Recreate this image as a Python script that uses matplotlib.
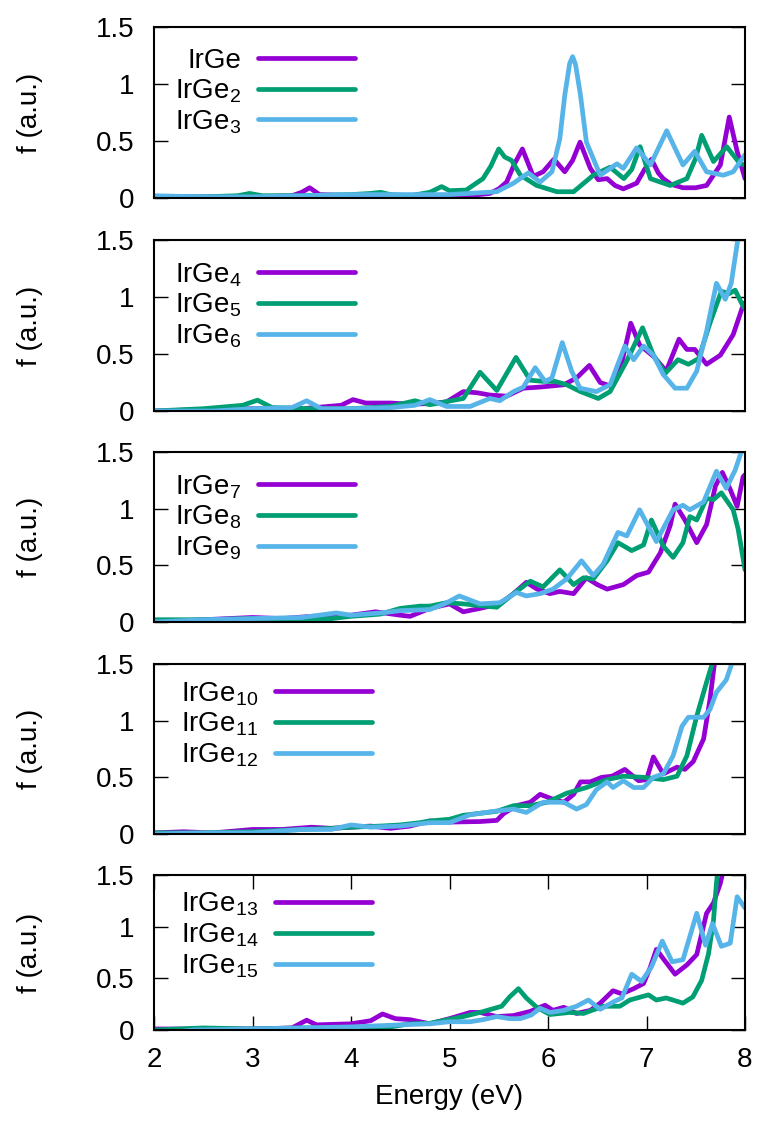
import matplotlib
matplotlib.use("Agg")
import matplotlib.pyplot as plt

plt.rcParams["font.family"] = ["Liberation Sans", "DejaVu Sans"]
plt.rcParams["mathtext.fontset"] = "custom"
plt.rcParams["mathtext.rm"] = "Liberation Sans"
plt.rcParams["mathtext.default"] = "regular"

PURPLE = "#9400d3"
GREEN = "#009e73"
BLUE = "#56b4e9"

# ---- oscillator strength spectra (energy in eV, f in a.u.) ----
e1 = [2.0, 2.5, 3.0, 3.4, 3.5, 3.58, 3.68, 4.0, 4.5, 4.8, 5.0, 5.3, 5.41, 5.5, 5.58, 5.66, 5.74, 5.8,
      5.85, 5.95, 6.06, 6.17, 6.25, 6.325, 6.43, 6.51, 6.6, 6.68, 6.765, 6.9, 6.98, 7.05, 7.12, 7.17,
      7.25, 7.37, 7.5, 7.61, 7.75, 7.84, 7.92, 8.0]
f1 = [0.01, 0.01, 0.01, 0.02, 0.05, 0.09, 0.03, 0.02, 0.01, 0.02, 0.02, 0.03, 0.04, 0.08, 0.14, 0.3, 0.43, 0.3,
      0.19, 0.23, 0.34, 0.23, 0.33, 0.49, 0.26, 0.16, 0.17, 0.11, 0.08, 0.13, 0.25, 0.34, 0.22, 0.17,
      0.12, 0.09, 0.09, 0.11, 0.29, 0.71, 0.41, 0.17]

e2 = [2.0, 2.5, 2.85, 2.97, 3.1, 3.5, 4.0, 4.2, 4.3, 4.4, 4.6, 4.8, 4.92, 5.0, 5.17, 5.34, 5.42, 5.5,
      5.56, 5.63, 5.72, 5.885, 6.09, 6.26, 6.46, 6.63, 6.77, 6.85, 6.935, 7.04, 7.24, 7.41, 7.5, 7.56,
      7.68, 7.815, 7.95, 8.0]
f2 = [0.01, 0.01, 0.02, 0.04, 0.02, 0.02, 0.03, 0.04, 0.05, 0.03, 0.02, 0.05, 0.1, 0.064, 0.07, 0.17, 0.28, 0.43,
      0.36, 0.33, 0.2, 0.11, 0.055, 0.055, 0.2, 0.27, 0.17, 0.25, 0.45, 0.17, 0.11, 0.17, 0.35, 0.55,
      0.32, 0.45, 0.3, 0.29]

e3 = [2.0, 2.5, 3.0, 3.5, 4.0, 4.5, 5.0, 5.48, 5.65, 5.8, 5.92, 6.04, 6.12, 6.17, 6.22, 6.25, 6.28, 6.33,
      6.39, 6.53, 6.7, 6.765, 6.9, 7.04, 7.205, 7.37, 7.49, 7.61, 7.78, 7.88, 8.0]
f3 = [0.02, 0.01, 0.01, 0.02, 0.03, 0.03, 0.03, 0.055, 0.13, 0.22, 0.14, 0.23, 0.52, 0.9, 1.18, 1.24, 1.17, 0.9,
      0.49, 0.2, 0.3, 0.26, 0.44, 0.29, 0.59, 0.29, 0.41, 0.23, 0.2, 0.23, 0.38]

e4 = [2.0, 2.4, 3.0, 3.5, 3.9, 4.02, 4.15, 4.4, 4.6, 4.8, 4.97, 5.14, 5.28, 5.41, 5.58, 5.75, 5.92, 6.16,
      6.29, 6.42, 6.53, 6.63, 6.73, 6.84, 6.93, 7.07, 7.2, 7.33, 7.41, 7.49, 7.61, 7.75, 7.88, 7.97, 8.0]
f4 = [0.0, 0.01, 0.02, 0.02, 0.05, 0.1, 0.07, 0.07, 0.06, 0.065, 0.08, 0.17, 0.16, 0.14, 0.13, 0.2, 0.21, 0.23,
      0.29, 0.4, 0.25, 0.22, 0.35, 0.77, 0.58, 0.48, 0.35, 0.63, 0.54, 0.54, 0.41, 0.49, 0.67, 0.9, 0.95]

e5 = [2.0, 2.5, 2.9, 3.05, 3.2, 3.6, 4.0, 4.4, 4.65, 4.8, 5.14, 5.31, 5.48, 5.675, 5.82, 5.95, 6.07, 6.19,
      6.33, 6.51, 6.63, 6.8, 6.96, 7.07, 7.19, 7.32, 7.425, 7.53, 7.64, 7.76, 7.84, 7.9, 7.98, 8.0]
f5 = [0.0, 0.02, 0.05, 0.095, 0.03, 0.02, 0.02, 0.04, 0.09, 0.055, 0.11, 0.34, 0.18, 0.47, 0.27, 0.26, 0.26, 0.23,
      0.17, 0.11, 0.17, 0.44, 0.73, 0.49, 0.33, 0.45, 0.41, 0.46, 0.76, 1.05, 1.03, 1.06, 0.92, 0.9]

e6 = [2.0, 2.6, 3.0, 3.4, 3.55, 3.7, 4.0, 4.4, 4.65, 4.8, 4.97, 5.21, 5.41, 5.51, 5.65, 5.75, 5.87, 5.97,
      6.04, 6.145, 6.24, 6.325, 6.49, 6.63, 6.78, 6.87, 6.97, 7.07, 7.17, 7.29, 7.41, 7.51, 7.61, 7.71,
      7.8, 7.86, 7.93, 8.0]
f6 = [0.0, 0.0, 0.02, 0.03, 0.09, 0.02, 0.02, 0.03, 0.05, 0.1, 0.04, 0.04, 0.11, 0.09, 0.17, 0.21, 0.38, 0.26,
      0.29, 0.6, 0.35, 0.2, 0.17, 0.23, 0.57, 0.45, 0.57, 0.49, 0.32, 0.2, 0.2, 0.35, 0.7, 1.12,
      0.98, 1.12, 1.52, 1.85]

e7 = [2.0, 2.5, 3.0, 3.3, 3.6, 4.0, 4.25, 4.5, 4.6, 4.8, 5.0, 5.14, 5.31, 5.51, 5.65, 5.78, 5.89, 6.02,
      6.12, 6.26, 6.39, 6.5, 6.6, 6.765, 6.9, 7.02, 7.14, 7.24, 7.29, 7.39, 7.51, 7.61, 7.7, 7.77, 7.85,
      7.92, 7.98, 8.0]
f7 = [0.0, 0.02, 0.04, 0.03, 0.05, 0.06, 0.09, 0.06, 0.05, 0.12, 0.16, 0.09, 0.12, 0.16, 0.25, 0.35, 0.29, 0.25,
      0.27, 0.25, 0.39, 0.33, 0.29, 0.33, 0.41, 0.44, 0.61, 0.85, 1.04, 0.9, 0.7, 0.86, 1.2, 1.32, 1.17,
      1.02, 1.28, 1.3]

e8 = [2.0, 2.5, 3.0, 3.5, 3.8, 4.0, 4.3, 4.5, 4.7, 4.8, 4.97, 5.14, 5.48, 5.65, 5.82, 5.95, 6.12, 6.26,
      6.36, 6.46, 6.6, 6.71, 6.85, 6.97, 7.05, 7.17, 7.27, 7.37, 7.44, 7.51, 7.61, 7.68, 7.76, 7.88,
      7.93, 8.0]
f8 = [0.02, 0.02, 0.03, 0.03, 0.03, 0.05, 0.07, 0.12, 0.14, 0.14, 0.17, 0.16, 0.13, 0.25, 0.36, 0.31, 0.46, 0.33,
      0.39, 0.38, 0.54, 0.7, 0.63, 0.68, 0.9, 0.67, 0.57, 0.7, 0.93, 0.9, 1.09, 1.08, 1.14, 0.99,
      0.82, 0.46]

e9 = [2.0, 2.5, 3.0, 3.5, 3.85, 4.0, 4.3, 4.5, 4.8, 4.95, 5.1, 5.31, 5.51, 5.68, 5.78, 5.92, 6.05, 6.19,
      6.34, 6.46, 6.56, 6.71, 6.8, 6.93, 7.1, 7.27, 7.37, 7.44, 7.58, 7.71, 7.81, 7.9, 7.97, 8.0]
f9 = [0.0, 0.02, 0.03, 0.04, 0.08, 0.06, 0.08, 0.1, 0.11, 0.16, 0.23, 0.16, 0.17, 0.26, 0.23, 0.25, 0.29, 0.38,
      0.54, 0.41, 0.51, 0.79, 0.76, 0.99, 0.71, 0.99, 1.03, 0.99, 1.06, 1.33, 1.18, 1.34, 1.52, 1.6]

e10 = [2.0, 2.3, 2.6, 3.0, 3.3, 3.6, 3.8, 4.0, 4.2, 4.4, 4.6, 4.8, 5.0, 5.31, 5.48, 5.55, 5.68, 5.82,
       5.92, 6.04, 6.16, 6.26, 6.33, 6.43, 6.545, 6.65, 6.78, 6.92, 7.0, 7.07, 7.17, 7.31, 7.39, 7.475,
       7.58, 7.645, 7.695, 7.75]
f10 = [0.01, 0.02, 0.01, 0.04, 0.04, 0.06, 0.05, 0.06, 0.07, 0.05, 0.07, 0.115, 0.105, 0.11, 0.12, 0.18, 0.25, 0.28,
       0.35, 0.31, 0.28, 0.35, 0.46, 0.46, 0.5, 0.51, 0.57, 0.47, 0.48, 0.68, 0.53, 0.59, 0.57, 0.64,
       0.84, 1.19, 1.54, 1.8]

e11 = [2.0, 2.5, 3.0, 3.5, 3.8, 4.0, 4.3, 4.5, 4.7, 4.8, 5.0, 5.14, 5.48, 5.65, 5.82, 5.99, 6.19, 6.39,
       6.6, 6.765, 6.97, 7.17, 7.31, 7.41, 7.51, 7.61, 7.68, 7.72]
f11 = [0.01, 0.01, 0.02, 0.04, 0.05, 0.06, 0.07, 0.08, 0.1, 0.115, 0.13, 0.165, 0.2, 0.25, 0.25, 0.28, 0.36, 0.41,
       0.48, 0.51, 0.5, 0.48, 0.51, 0.69, 1.04, 1.34, 1.54, 1.7]

e12 = [2.0, 2.5, 3.0, 3.5, 3.8, 4.0, 4.2, 4.5, 4.8, 5.0, 5.21, 5.45, 5.65, 5.78, 5.95, 6.16, 6.29, 6.39,
       6.49, 6.6, 6.66, 6.765, 6.87, 6.97, 7.07, 7.17, 7.27, 7.36, 7.425, 7.58, 7.645, 7.71, 7.81, 7.88,
       7.95]
f12 = [0.0, 0.01, 0.01, 0.04, 0.04, 0.08, 0.06, 0.07, 0.1, 0.1, 0.17, 0.2, 0.22, 0.19, 0.28, 0.28, 0.22, 0.26,
       0.39, 0.46, 0.41, 0.47, 0.41, 0.41, 0.5, 0.53, 0.69, 0.95, 1.03, 1.03, 1.1, 1.25, 1.36, 1.54,
       1.75]

e13 = [2.0, 2.5, 3.0, 3.4, 3.55, 3.65, 4.0, 4.2, 4.32, 4.45, 4.6, 4.8, 5.0, 5.21, 5.31, 5.48, 5.65, 5.82,
       5.97, 6.05, 6.16, 6.29, 6.43, 6.53, 6.66, 6.75, 6.87, 6.97, 7.04, 7.1, 7.17, 7.29, 7.41, 7.51,
       7.61, 7.68, 7.75, 7.78, 7.82]
f13 = [0.01, 0.01, 0.01, 0.02, 0.095, 0.05, 0.06, 0.09, 0.155, 0.11, 0.1, 0.06, 0.11, 0.17, 0.17, 0.13, 0.14, 0.18,
       0.24, 0.19, 0.22, 0.16, 0.19, 0.26, 0.38, 0.35, 0.4, 0.45, 0.61, 0.78, 0.69, 0.54, 0.63, 0.73,
       1.13, 1.23, 1.42, 1.55, 1.7]

e14 = [2.0, 2.5, 3.0, 3.5, 4.0, 4.4, 4.6, 4.8, 5.14, 5.31, 5.53, 5.61, 5.7, 5.78, 5.885, 6.02, 6.22, 6.36,
       6.56, 6.73, 6.83, 7.02, 7.1, 7.2, 7.37, 7.47, 7.56, 7.63, 7.68, 7.71, 7.74]
f14 = [0.0, 0.02, 0.01, 0.02, 0.02, 0.03, 0.06, 0.065, 0.13, 0.17, 0.23, 0.32, 0.4, 0.31, 0.22, 0.15, 0.17, 0.16,
       0.23, 0.23, 0.29, 0.34, 0.29, 0.31, 0.26, 0.32, 0.48, 0.74, 1.06, 1.42, 1.7]

e15 = [2.0, 2.2, 2.4, 3.0, 3.5, 4.0, 4.5, 4.8, 5.0, 5.21, 5.34, 5.48, 5.61, 5.72, 5.83, 5.92, 6.02, 6.16,
       6.29, 6.41, 6.53, 6.68, 6.75, 6.85, 6.95, 7.05, 7.16, 7.26, 7.37, 7.51, 7.6, 7.67, 7.76, 7.85,
       7.92, 8.0]
f15 = [-0.02, -0.02, 0.0, 0.01, 0.02, 0.03, 0.05, 0.06, 0.08, 0.08, 0.1, 0.13, 0.11, 0.11, 0.145, 0.21, 0.17, 0.19,
       0.23, 0.29, 0.2, 0.28, 0.31, 0.54, 0.47, 0.61, 0.86, 0.66, 0.68, 1.13, 0.82, 1.03, 0.81, 0.84,
       1.29, 1.18]

labels = ["IrGe"] + ["IrGe$_{%d}$" % n for n in range(2, 16)]
energies = [e1, e2, e3, e4, e5, e6, e7, e8, e9, e10, e11, e12, e13, e14, e15]
strengths = [f1, f2, f3, f4, f5, f6, f7, f8, f9, f10, f11, f12, f13, f14, f15]
colors = [PURPLE, GREEN, BLUE]

xticks = [2, 3, 4, 5, 6, 7, 8]
yticks = [0, 0.5, 1, 1.5]
ytick_labels = ["0", "0.5", "1", "1.5"]

W, H = 762, 1127
# pixel boxes (top, bottom) of the five panels
rows = [(27, 198), (240, 411), (452, 622), (664, 834), (875, 1030)]
left_px, right_px = 154, 745

fig = plt.figure(figsize=(W / 100, H / 100), dpi=100)

for p, (top, bot) in enumerate(rows):
    hgt = bot - top
    ax = fig.add_axes([left_px / W, 1 - bot / H, (right_px - left_px) / W, hgt / H])
    for k in range(3):
        i = 3 * p + k
        ax.plot(energies[i], strengths[i], color=colors[k], lw=3.4, label=labels[i],
                solid_joinstyle="round", solid_capstyle="round")
    ax.set_xlim(2, 8)
    ax.set_ylim(0, 1.5)
    ax.set_yticks(yticks)
    ax.set_yticklabels(ytick_labels)
    ax.tick_params(axis="y", direction="in", length=10, width=1, labelsize=20, pad=14,
                   left=True, right=True)
    if p == len(rows) - 1:
        ax.set_xticks(xticks)
        ax.tick_params(axis="x", direction="in", length=10, width=1, labelsize=20, pad=12,
                       top=True, bottom=True)
        ax.set_xlabel("Energy (eV)", fontsize=20, labelpad=8)
    else:
        ax.set_xticks([])
    for s in ax.spines.values():
        s.set_linewidth(1.5)
    ax.set_ylabel("f (a.u.)", fontsize=20)
    ax.yaxis.set_label_coords(-0.188, 0.5)

    if p < 3:
        anchor_x = (355 - left_px) / (right_px - left_px)
        anchor_y = 1 - 21 / hgt
    else:
        anchor_x = (372 - left_px) / (right_px - left_px)
        anchor_y = 1 - 16 / hgt
    ax.legend(loc="upper right", bbox_to_anchor=(anchor_x, anchor_y), frameon=False, fontsize=20,
              markerfirst=False, handlelength=3.5, handletextpad=0.6, labelspacing=0.12,
              borderpad=0, borderaxespad=0)

fig.savefig("out.png", dpi=100)
